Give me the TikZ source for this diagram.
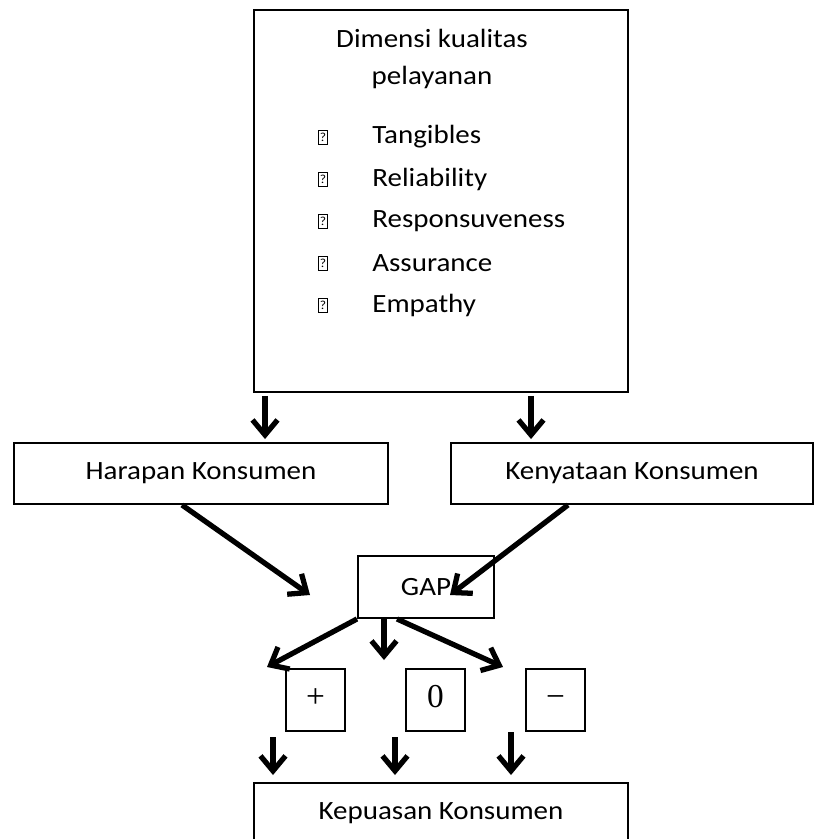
\documentclass[tikz,border=0pt]{standalone}
\usepackage{fontspec}
\setmainfont{Carlito}[FakeStretch=1.1]
\newfontfamily\timesfont{Liberation Serif}
\usetikzlibrary{arrows.meta, positioning}

\begin{document}
\begin{tikzpicture}[x=0.02cm, y=-0.02cm,
  box/.style={draw, line width=1.1pt, inner sep=0pt, font=\fontsize{15}{18}\selectfont},
  signbox/.style={box, minimum width=1.18cm, minimum height=1.24cm, font=\timesfont\fontsize{19}{22}\selectfont},
  qbox/.style={draw, line width=0.45pt, minimum width=0.19cm, minimum height=0.28cm, inner sep=0pt, font=\fontsize{7}{8}\selectfont},
  flow/.style={line width=3pt, line join=round, -{Straight Barb[length=3mm, width=5mm]}}]
  \useasboundingbox (0,0) rectangle (814,839);

  % Dimensions box
  \node[box, minimum width=7.48cm, minimum height=7.64cm] (dims) at (441,201) {};
  \node[align=center, font=\fontsize{15}{21.5}\selectfont] (title) at (432,59) {Dimensi kualitas\\pelayanan};
  \foreach \t [count=\i] in {Tangibles, Reliability, Responsuveness, Assurance, Empathy}{
    \node[qbox] (q\i) at (323,95+42*\i) {?};
    \node[anchor=west, inner sep=0pt, font=\fontsize{15}{18}\selectfont] (d\i) at (372,95+42*\i) {\t};
  }

  % Consumer boxes
  \node[box, minimum width=7.48cm, minimum height=1.22cm] (harapan) at (201,473.5) {Harapan Konsumen};
  \node[box, minimum width=7.24cm, minimum height=1.22cm] (kenyataan) at (632,473.5) {Kenyataan Konsumen};
  \node[box, minimum width=2.72cm, minimum height=1.24cm] (gap) at (426,587) {GAP};

  % Signs
  \foreach \n/\s/\x in {plus/+/315.5, zero/0/435.5, minus/−/555.5}{
    \node[signbox] (\n) at (\x,700) {\strut\s};
  }
  \node[box, minimum width=7.48cm, minimum height=1.2cm, anchor=north] (kepuasan) at (441,782) {Kepuasan Konsumen};

  % Free arrow ends
  \coordinate (gapL) at (310,595);
  \coordinate (gapR) at (450,595);
  \coordinate (toplus) at (267,667);
  \coordinate (tozero) at (384,660);
  \coordinate (tominus) at (503,667);
  \coordinate (fromplus) at (273,737);
  \coordinate (fromzero) at (395,737);
  \coordinate (fromminus) at (511,732);

  % Arrows
  \draw[flow, shorten <=0.06cm, shorten >=0.06cm] (dims.south -| 265,0) -- (harapan.north -| 265,0);
  \draw[flow, shorten <=0.06cm, shorten >=0.06cm] (dims.south -| 531,0) -- (kenyataan.north -| 531,0);
  \draw[flow] (harapan.south -| 182,0) -- (gapL);
  \draw[flow] (kenyataan.south -| 568,0) -- (gapR);
  \draw[flow] (gap.south -| 357,0) -- (toplus);
  \draw[flow] (gap.south -| 384,0) -- (tozero);
  \draw[flow] (gap.south -| 397,0) -- (tominus);
  \draw[flow, shorten >=0.14cm] (fromplus) -- (kepuasan.north -| fromplus);
  \draw[flow, shorten >=0.14cm] (fromzero) -- (kepuasan.north -| fromzero);
  \draw[flow, shorten >=0.14cm] (fromminus) -- (kepuasan.north -| fromminus);
\end{tikzpicture}
\end{document}
